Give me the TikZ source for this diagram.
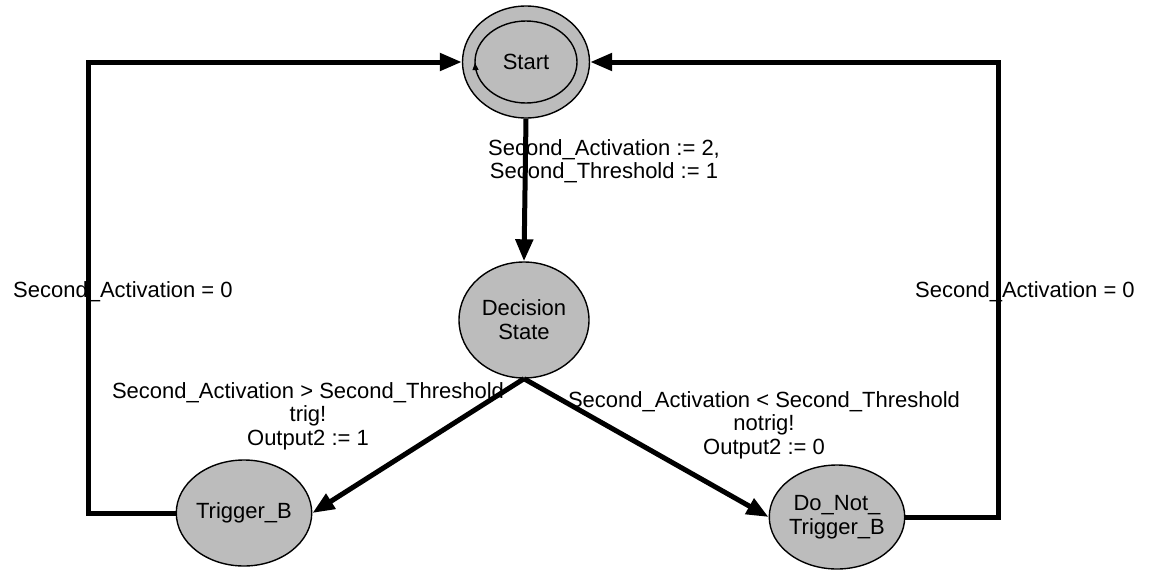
\documentclass[tikz,border=0pt]{standalone}
\usepackage{fontspec}
\setmainfont{Liberation Sans}
\usetikzlibrary{shapes.geometric,arrows.meta,calc}
\definecolor{statefill}{RGB}{188,188,188}
\tikzset{
  state/.style={ellipse, draw=black, line width=1.4pt, fill=statefill,
    inner sep=0pt, align=center, font=\fontsize{22}{24}\selectfont},
  trans/.style={line width=5pt, -{Triangle[length=22pt,width=17pt]}},
  lbl/.style={inner sep=0pt, align=center, font=\fontsize{22}{23.5}\selectfont}
}
\begin{document}
\begin{tikzpicture}[x=1pt,y=1pt]
\useasboundingbox (0,0) rectangle (1149,-571);

% states
\node[state, minimum width=127pt, minimum height=112pt] (start) at (526,-62) {};
\draw[line width=1.4pt, fill=statefill] (start.center) ellipse [x radius=51pt, y radius=41pt];
\node[inner sep=0pt, font=\fontsize{22}{24}\selectfont] (starttext) at (start.center) {Start};
\draw[line width=1pt, -{Triangle[length=7pt,width=6pt]}]
  ($(start.center)+(-50.5pt,-8pt)$) -- ($(start.center)+(-51pt,-1pt)$);

\node[state, minimum width=130pt, minimum height=116pt] (dec) at (524,-320) {Decision\\State};
\node[state, minimum width=125pt, minimum height=106pt] (trig) at (244,-513) {Trigger\_B};
\node[state, minimum width=124pt, minimum height=104pt] (dnt) at (837,-517) {Do\_Not\_\\Trigger\_B};

% loop columns
\coordinate (lx) at (88,0);
\coordinate (rx) at (998,0);

% transitions
\draw[trans] (start.south) -- (dec.north);
\draw[trans] (dec.south) -- (trig.east);
\draw[trans] (dec.south) -- (dnt.west);
\draw[trans] (trig.west) -- (trig.west -| lx) |- (start.west);
\draw[trans] (dnt.east) -- (dnt.east -| rx) |- (start.east);

% labels
\node[lbl] (l1) at (604,-161) {Second\_Activation := 2,\\Second\_Threshold := 1};
\node[lbl] (l2) at (308,-416) {Second\_Activation > Second\_Threshold\\trig!\\Output2 := 1};
\node[lbl] (l3) at (764,-425) {Second\_Activation < Second\_Threshold\\notrig!\\Output2 := 0};
\node[lbl, anchor=base west] (l4) at (13,-297) {Second\_Activation = 0};
\node[lbl, anchor=base west] (l5) at (915,-297) {Second\_Activation = 0};
\end{tikzpicture}
\end{document}
